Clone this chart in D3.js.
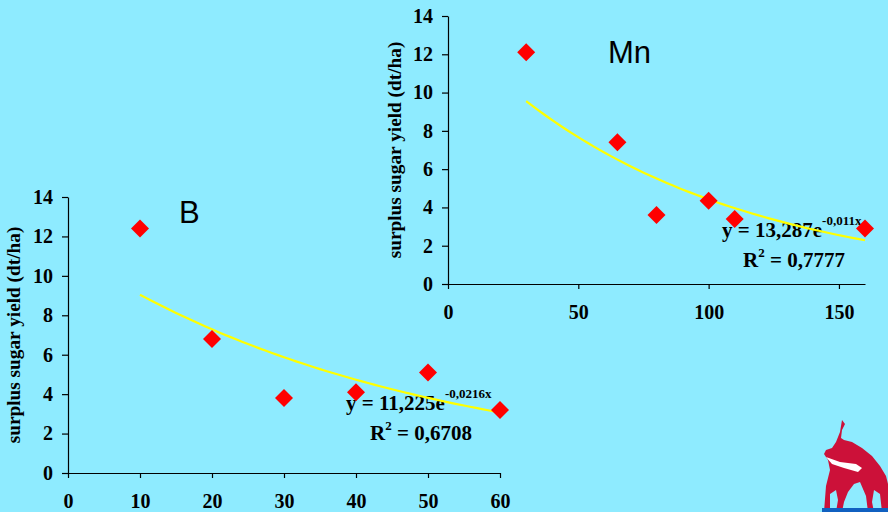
<!DOCTYPE html>
<html>
<head>
<meta charset="utf-8">
<script src="https://cdn.jsdelivr.net/npm/d3@7"></script>
<style>
  body { margin: 0; background: #8EEBFF; }
  svg { display: block; }
</style>
</head>
<body>
<div id="chart"></div>
<script>
const W = 888, H = 512;

// B panel data
const bX = [10, 20, 30, 40, 50, 60];
const bY = [12.4, 6.8, 3.8, 4.1, 5.1, 3.2];
const bXTicks = [0, 10, 20, 30, 40, 50, 60];
const bFit = { a: 11.225, k: -0.0216, from: 10, to: 60 };

// Mn panel data
const mnX = [30, 65, 80, 100, 110, 160];
const mnY = [12.1, 7.4, 3.6, 4.35, 3.4, 2.9];
const mnXTicks = [0, 50, 100, 150];
const mnFit = { a: 13.287, k: -0.011, from: 30, to: 160 };

const yTicks = [0, 2, 4, 6, 8, 10, 12, 14];
const yLabel = "surplus sugar yield (dt/ha)";

const svg = d3.select("#chart").append("svg")
    .attr("width", W).attr("height", H);

svg.append("rect").attr("width", W).attr("height", H).attr("fill", "#8EEBFF");

function styleAxis(a) {
    a.selectAll("line,path").attr("stroke", "#000").attr("stroke-width", 1.2);
    a.selectAll("text")
        .attr("font-family", "Liberation Serif, serif")
        .attr("font-weight", "bold")
        .attr("font-size", 20)
        .attr("fill", "#000");
}

function drawPanel(p) {
    const g = svg.append("g");
    const x = d3.scaleLinear().domain(p.xDomain).range([p.left, p.right]);
    const y = d3.scaleLinear().domain([0, 14]).range([p.bottom, p.top]);

    g.append("g")
        .attr("transform", "translate(0," + p.bottom + ")")
        .call(d3.axisBottom(x).tickValues(p.xTicks).tickSize(5).tickSizeOuter(0).tickPadding(16))
        .call(styleAxis);
    g.append("g")
        .attr("transform", "translate(" + p.left + ",0)")
        .call(d3.axisLeft(y).tickValues(yTicks).tickSize(6).tickSizeOuter(0).tickPadding(9))
        .call(styleAxis);

    g.append("text")
        .attr("transform", "translate(" + p.labelX + "," + (p.top + p.bottom) / 2 + ") rotate(-90)")
        .attr("text-anchor", "middle")
        .attr("font-family", "Liberation Serif, serif")
        .attr("font-weight", "bold")
        .attr("font-size", 19.3)
        .text(yLabel);

    g.append("text")
        .attr("x", p.titleX).attr("y", p.titleY)
        .attr("font-family", "Liberation Sans, Arial, sans-serif")
        .attr("font-size", 31)
        .text(p.title);

    // equation text
    const eq = g.append("text")
        .attr("x", p.eqX).attr("y", p.eqY)
        .attr("font-family", "Liberation Serif, serif")
        .attr("font-weight", "bold")
        .attr("font-size", 21);
    eq.append("tspan").text("y = " + p.fit.a.toFixed(3).replace(".", ",") + "e");
    eq.append("tspan").attr("dy", -12).attr("font-size", 13)
        .text(String(p.fit.k).replace(".", ",") + "x");

    const r2 = g.append("text")
        .attr("x", p.eqX + p.r2dx).attr("y", p.eqY + 30)
        .attr("font-family", "Liberation Serif, serif")
        .attr("font-weight", "bold")
        .attr("font-size", 21);
    r2.append("tspan").text("R");
    r2.append("tspan").attr("dy", -10).attr("font-size", 13).text("2");
    r2.append("tspan").attr("dy", 10).text(" = " + p.r2);

    // trend line
    const fx = d3.range(p.fit.from, p.fit.to + 0.001, (p.fit.to - p.fit.from) / 60);
    g.append("path")
        .datum(fx)
        .attr("d", d3.line().x(d => x(d)).y(d => y(p.fit.a * Math.exp(p.fit.k * d))))
        .attr("fill", "none")
        .attr("stroke", "#FFFF00")
        .attr("stroke-width", 2.2);

    // markers
    g.selectAll("path.pt")
        .data(p.xs.map((d, i) => [d, p.ys[i]]))
        .join("path")
        .attr("class", "pt")
        .attr("d", "M0,-9L9,0L0,9L-9,0Z")
        .attr("transform", d => "translate(" + x(d[0]) + "," + y(d[1]) + ")")
        .attr("fill", "#FF0000");
}

drawPanel({
    xs: bX, ys: bY, xTicks: bXTicks, fit: bFit, xDomain: [0, 60],
    left: 68, right: 500, top: 197, bottom: 473,
    labelX: 20, title: "B", titleX: 179, titleY: 223,
    eqX: 346, eqY: 410, r2dx: 24, r2: "0,6708"
});

drawPanel({
    xs: mnX, ys: mnY, xTicks: mnXTicks, fit: mnFit, xDomain: [0, 160],
    left: 448, right: 865, top: 16, bottom: 284,
    labelX: 401, title: "Mn", titleX: 608, titleY: 63,
    eqX: 722, eqY: 237, r2dx: 21, r2: "0,7777"
});

// logo (bull) in lower right corner
const logo = svg.append("g").attr("transform", "translate(800,420)");
logo.append("path")
    .attr("d", "M42,0 L45,4 L42,10 L41,18 L44,20 L52,22 L62,28 L72,36 L80,46 L86,56 L88,64 L88,92 L82,92 L80,74 L74,70 L72,82 L74,92 L68,92 L66,76 L60,62 L54,64 L48,72 L44,82 L42,92 L36,92 L38,80 L36,70 L30,74 L30,92 L24,92 L26,66 L30,50 L28,40 L24,34 L26,30 L32,28 L36,22 L40,12 Z")
    .attr("fill", "#CC1139");
logo.append("path")
    .attr("d", "M26,37 L40,42 L56,44 L62,48 L58,52 L44,48 L32,44 Z")
    .attr("fill", "#FFFFFF");
logo.append("rect").attr("x", 22).attr("y", 88).attr("width", 66).attr("height", 4).attr("fill", "#1060C0");
</script>
</body>
</html>
